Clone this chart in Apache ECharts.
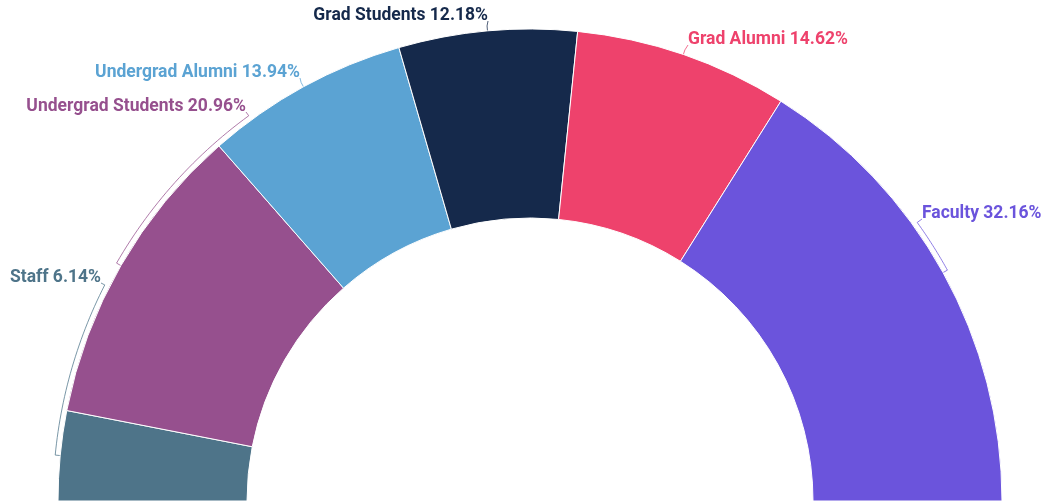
<!DOCTYPE html>
<html><head><meta charset="utf-8">
<script src="https://cdn.jsdelivr.net/npm/echarts@6/dist/echarts.min.js"></script>
<style>html,body{margin:0;padding:0;background:#fff}#c{width:1045px;height:504px}</style>
</head><body><div id="c"></div>
<script>
const categories = ['Staff', 'Undergrad Students', 'Undergrad Alumni', 'Grad Students', 'Grad Alumni', 'Faculty'];
const shares = [6.14, 20.96, 13.94, 12.18, 14.62, 32.16];
const colors = ['#4E7489', '#96508E', '#5BA3D3', '#15294B', '#EE426C', '#6B54DC'];

// layout constants (pixels)
const CX = 530, CY = 501, R0 = 283, R1 = 472;
const labelSpots = [
  { x: 101, y: 278, align: 'right' },
  { x: 246, y: 107, align: 'right' },
  { x: 300, y: 73, align: 'right' },
  { x: 488, y: 16, align: 'right' },
  { x: 688, y: 40, align: 'left' },
  { x: 922, y: 214, align: 'left' }
];

const total = shares.reduce((a, b) => a + b, 0);
const midAngles = [];
let cum = 0;
shares.forEach(v => { midAngles.push(180 - 180 * (cum + v / 2) / total); cum += v; });

function pt(r, deg) {
  const a = deg * Math.PI / 180;
  return [CX + r * Math.cos(a), CY - r * Math.sin(a)];
}

function linePoints(i) {
  const s = labelSpots[i];
  const ex = s.x, ey = s.y + 5;
  const m = midAngles[i];
  const phi = Math.atan2(CY - ey, ex - CX) * 180 / Math.PI;
  const rb = R1 + 5;
  const pts = [pt(R1, m), pt(rb, m)];
  if (Math.abs(phi - m) > 2) {
    const n = 30;
    for (let k = 1; k <= n; k++) pts.push(pt(rb, m + (phi - m) * k / n));
  }
  pts.push([ex, ey]);
  return pts;
}

const chart = echarts.init(document.getElementById('c'), null, { renderer: 'canvas' });
chart.setOption({
  backgroundColor: '#ffffff',
  animation: false,
  series: [{
    type: 'pie',
    center: [CX, CY],
    radius: [R0, R1],
    startAngle: 180,
    endAngle: 0,
    clockwise: true,
    avoidLabelOverlap: false,
    itemStyle: { borderColor: '#ffffff', borderWidth: 1 },
    label: {
      show: true,
      position: 'outside',
      fontFamily: 'Roboto',
      fontWeight: 'bold',
      fontSize: 17.5,
      formatter: p => p.name + ' ' + p.value.toFixed(2) + '%'
    },
    labelLine: { show: true, length: 5, length2: 5, smooth: false, lineStyle: { width: 1, opacity: 0.75 } },
    labelLayout: function (params) {
      const i = params.dataIndex;
      const s = labelSpots[i];
      return { x: s.x, y: s.y, align: s.align, verticalAlign: 'middle', labelLinePoints: linePoints(i) };
    },
    data: categories.map((c, i) => ({
      name: c,
      value: shares[i],
      itemStyle: { color: colors[i] },
      label: { color: colors[i] },
      labelLine: { lineStyle: { color: colors[i] } }
    }))
  }]
});
</script>
</body></html>
